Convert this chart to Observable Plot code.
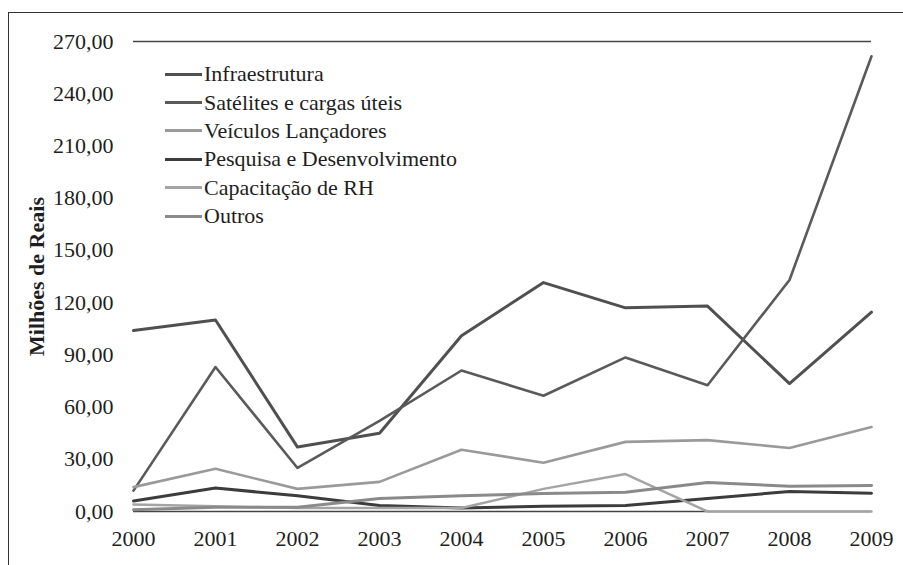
<!DOCTYPE html>
<html><head><meta charset="utf-8">
<script src="https://cdn.jsdelivr.net/npm/d3@7"></script>
<script src="https://cdn.jsdelivr.net/npm/@observablehq/plot@0.6"></script>
<style>
body{margin:0;background:#fff;}
#wrap{position:relative;width:903px;height:565px;overflow:hidden;font-family:"Liberation Serif","Times New Roman",serif;background:#fff;}
#wrap svg{position:absolute;left:0;top:0;}
#border{position:absolute;left:8px;top:12px;width:1000px;height:1000px;border-left:1.5px solid #333;border-top:1.5px solid #333;}
#legend{position:absolute;left:165px;top:60px;font-family:"Liberation Serif","Times New Roman",serif;}
.item{display:flex;align-items:center;height:28.4px;font-size:22px;color:#1e1e1e;white-space:nowrap;}
.sw{width:37px;margin-right:2px;}
g[aria-label="y-axis label"] text{font-weight:bold;font-size:22px;}
</style></head>
<body><div id="wrap"><div id="border"></div></div>
<script>
// Data (milhões de reais)
const years = [2000, 2001, 2002, 2003, 2004, 2005, 2006, 2007, 2008, 2009];
const seriesNames = ["Infraestrutura", "Satélites e cargas úteis", "Veículos Lançadores", "Pesquisa e Desenvolvimento", "Capacitação de RH", "Outros"];
const infraestrutura = [104, 110, 37, 45, 101, 131.5, 117, 118, 73.5, 114.5];
const satelites = [12, 83, 25, 52, 81, 66.5, 88.5, 72.5, 133, 261.5];
const veiculos = [14, 24.5, 13, 17, 35.5, 28, 40, 41, 36.5, 48.5];
const pesquisa = [6, 13.5, 9, 3.5, 2, 3, 3.5, 7.5, 11.5, 10.5];
const capacitacao = [4, 3, 2, 2, 2, 13, 21.5, 0, 0, 0];
const outros = [1, 2.5, 2.5, 7.5, 9, 10.3, 11, 16.7, 14.5, 15];
const yTicks = [0, 30, 60, 90, 120, 150, 180, 210, 240, 270];

const seriesValues = [infraestrutura, satelites, veiculos, pesquisa, capacitacao, outros];
const seriesColors = ["#505050", "#5a5a5a", "#9a9a9a", "#3c3c3c", "#a4a4a4", "#8a8a8a"];
const seriesWidths = [3, 2.6, 2.6, 3, 2.5, 3];

const table = seriesNames.map((name, i) => years.map((year, j) => ({name, year, value: seriesValues[i][j]})));

const fmt = v => d3.format(".2f")(v).replace(".", ",");

const chart = Plot.plot({
  width: 903,
  height: 565,
  marginLeft: 133,
  marginRight: 32,
  marginTop: 41,
  marginBottom: 54,
  style: {fontFamily: "'Liberation Serif', 'Times New Roman', serif", fontSize: "22px", color: "#1e1e1e", background: "transparent"},
  x: {domain: [2000, 2009]},
  y: {domain: [0, 270]},
  marks: [
    Plot.ruleY([0, 270], {stroke: "#444", strokeWidth: 1.3}),
    ...table.map((rows, i) => Plot.line(rows, {x: "year", y: "value", stroke: seriesColors[i], strokeWidth: seriesWidths[i], strokeLinejoin: "round", strokeLinecap: "round"})),
    Plot.axisX({ticks: years, tickFormat: d => String(d), tickSize: 0, tickPadding: 19, label: null}),
    Plot.axisY({ticks: yTicks, tickFormat: fmt, tickSize: 0, tickPadding: 20, label: "Milhões de Reais", labelAnchor: "center", labelOffset: 105, labelArrow: "none"})
  ]
});
const wrap = document.getElementById("wrap");
wrap.appendChild(chart);

const legend = document.createElement("div");
legend.id = "legend";
seriesNames.forEach((name, i) => {
  const item = document.createElement("div");
  item.className = "item";
  const sw = document.createElement("div");
  sw.className = "sw";
  sw.style.borderTop = `${seriesWidths[i] + 0.5}px solid ${seriesColors[i]}`;
  const t = document.createElement("span");
  t.textContent = name;
  item.appendChild(sw);
  item.appendChild(t);
  legend.appendChild(item);
});
wrap.appendChild(legend);
</script></body></html>
